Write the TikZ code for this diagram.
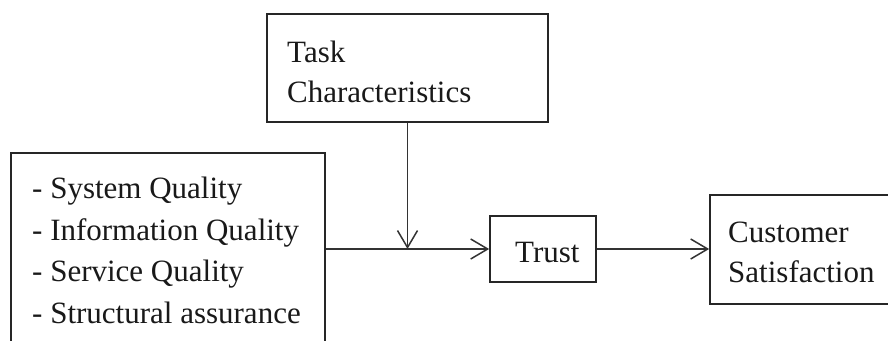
\documentclass[tikz,border=0pt]{standalone}
\usepackage{fontspec}
\setmainfont{Liberation Serif}
\usetikzlibrary{arrows.meta}
\begin{document}
\begin{tikzpicture}[x=1pt,y=-1pt,
  box/.style={draw=black!85, line width=1.7pt, minimum width=#1, inner sep=0pt},
  lbl/.style={anchor=base west, inner sep=0pt, font=\fontsize{31}{42}\selectfont, text=black!90},
  link/.style={draw=black!80, line width=1.7pt, -{Straight Barb[length=17pt,width=20pt,line width=1.5pt]}}]
\useasboundingbox (0,0) rectangle (888,340);
\clip (0,0) rectangle (888,340);
\fill[white] (0,0) rectangle (888,340);

% boxes
\node[box=314pt, minimum height=214pt] (quality) at (168,260) {};
\node[box=281pt, minimum height=108pt] (task) at (407.5,68) {};
\node[box=106pt, minimum height=66pt] (trust) at (543,249) {};
\node[box=190pt, minimum height=109pt] (cust) at (805,249.5) {};

% texts
\node[lbl] (q1) at (32,198) {- System Quality};
\node[lbl] (q2) at (32,240) {- Information Quality};
\node[lbl] (q3) at (32,281) {- Service Quality};
\node[lbl] (q4) at (32,323) {- Structural assurance};
\node[lbl] (t1) at (287,62) {Task};
\node[lbl] (t2) at (287,102) {Characteristics};
\node[lbl] (tr) at (515,262) {Trust};
\node[lbl] (c1) at (728,242) {Customer};
\node[lbl] (c2) at (728,282) {Satisfaction};

% connectors
\coordinate (join) at (task.south |- trust.west);
\draw[link] (quality.east |- trust.west) -- (trust.west);
\draw[link] (task.south) -- (join);
\draw[link] (trust.east) -- (cust.west |- trust.east);
\end{tikzpicture}
\end{document}
